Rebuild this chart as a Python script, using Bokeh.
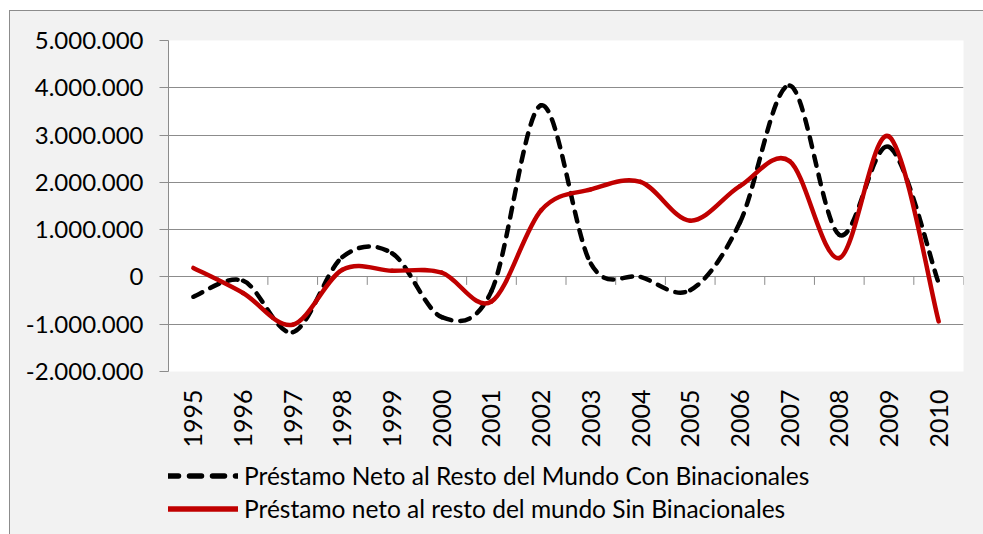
import numpy as np
from bokeh.plotting import figure
from bokeh.layouts import column
from bokeh.models import FixedTicker, Legend, LegendItem, Range1d
from bokeh.embed import file_html
from bokeh.resources import INLINE

years = ["1995", "1996", "1997", "1998", "1999", "2000", "2001", "2002",
         "2003", "2004", "2005", "2006", "2007", "2008", "2009", "2010"]
con_binacionales = [-420000, -80000, -1170000, 420000, 500000, -850000, -300000, 3630000,
                    280000, 0, -280000, 1150000, 4050000, 890000, 2750000, -130000]
sin_binacionales = [190000, -340000, -1010000, 150000, 130000, 90000, -520000, 1410000,
                    1850000, 2010000, 1190000, 1920000, 2450000, 400000, 2970000, -940000]
y_ticks = [-2000000, -1000000, 0, 1000000, 2000000, 3000000, 4000000, 5000000]
y_labels = ["-2.000.000", "-1.000.000", "0", "1.000.000", "2.000.000",
            "3.000.000", "4.000.000", "5.000.000"]
label_con = "Préstamo Neto al Resto del Mundo Con Binacionales"
label_sin = "Préstamo neto al resto del mundo Sin Binacionales"

FONT = "Lato"
GRID = "#8c8c8c"
BG = "#f2f2f2"

xs = list(range(len(years)))


def smooth_segments(x, y):
    """Excel-style smoothed line: cubic Bezier control points (Catmull-Rom)."""
    n = len(x)
    seg = dict(x0=[], y0=[], x1=[], y1=[], cx0=[], cy0=[], cx1=[], cy1=[])
    for i in range(n - 1):
        xp, yp = (x[i - 1], y[i - 1]) if i > 0 else (x[i], y[i])
        xn, yn = (x[i + 2], y[i + 2]) if i + 2 < n else (x[i + 1], y[i + 1])
        seg["x0"].append(x[i]); seg["y0"].append(y[i])
        seg["x1"].append(x[i + 1]); seg["y1"].append(y[i + 1])
        seg["cx0"].append(x[i] + (x[i + 1] - xp) / 6.0)
        seg["cy0"].append(y[i] + (y[i + 1] - yp) / 6.0)
        seg["cx1"].append(x[i + 1] - (xn - x[i]) / 6.0)
        seg["cy1"].append(y[i + 1] - (yn - y[i]) / 6.0)
    return seg


p = figure(width=973, height=439, output_backend="svg", toolbar_location=None,
           x_range=Range1d(-0.5, len(years) - 0.5),
           y_range=Range1d(y_ticks[0], y_ticks[-1]),
           min_border_left=158, min_border_right=20, min_border_top=29,
           min_border_bottom=78)
p.background_fill_color = "white"
p.border_fill_color = BG
p.outline_line_color = None

# grid
p.xgrid.visible = False
p.ygrid.ticker = FixedTicker(ticks=y_ticks)
p.ygrid.grid_line_color = GRID
p.ygrid.grid_line_width = 1

# y axis
p.yaxis.ticker = FixedTicker(ticks=y_ticks)
p.yaxis.major_label_overrides = {t: l for t, l in zip(y_ticks, y_labels)}
p.yaxis.axis_line_color = GRID
p.yaxis.major_tick_line_color = GRID
p.yaxis.major_tick_out = 9
p.yaxis.major_tick_in = 0
p.yaxis.minor_tick_line_color = None
p.yaxis.major_label_text_font = FONT
p.yaxis.major_label_text_font_size = "24px"
p.yaxis.major_label_text_color = "black"
p.yaxis.major_label_standoff = 16

# x axis (labels at bottom)
p.xaxis.ticker = FixedTicker(ticks=xs)
p.xaxis.major_label_overrides = {i: yr for i, yr in zip(xs, years)}
p.xaxis.axis_line_color = None
p.xaxis.major_tick_line_color = None
p.xaxis.major_tick_out = 0
p.xaxis.major_tick_in = 0
p.xaxis.minor_tick_line_color = None
p.xaxis.major_label_orientation = np.pi / 2
p.xaxis.major_label_text_font = FONT
p.xaxis.major_label_text_font_size = "25px"
p.xaxis.major_label_text_color = "black"
p.xaxis.major_label_standoff = 18

# category-axis tick marks on the zero line (at category boundaries)
bounds = [i - 0.5 for i in range(len(years) + 1)]
tick_len = (y_ticks[-1] - y_ticks[0]) * 8.0 / 332.0
p.segment(x0=bounds, y0=[0] * len(bounds), x1=bounds, y1=[-tick_len] * len(bounds),
          line_color=GRID, line_width=1)

# series
s1 = smooth_segments(xs, con_binacionales)
s2 = smooth_segments(xs, sin_binacionales)
DASH = "10 9"
p.bezier(source=s1, x0="x0", y0="y0", x1="x1", y1="y1", cx0="cx0", cy0="cy0",
         cx1="cx1", cy1="cy1", line_color="black", line_width=4.5, line_dash=DASH,
         line_cap="round")
p.bezier(source=s2, x0="x0", y0="y0", x1="x1", y1="y1", cx0="cx0", cy0="cy0",
         cx1="cx1", cy1="cy1", line_color="#c00000", line_width=4.5, line_cap="round")

# legend strip (separate figure directly below, frame aligned with the chart)
q = figure(width=973, height=84, output_backend="svg", toolbar_location=None,
           x_range=Range1d(0, 1), y_range=Range1d(0, 1),
           x_axis_location=None, y_axis_location=None,
           min_border_left=158, min_border_right=20, min_border_top=0,
           min_border_bottom=0)
q.background_fill_color = BG
q.border_fill_color = BG
q.outline_line_color = None
q.grid.visible = False
l1 = q.line(x=[np.nan], y=[np.nan], line_color="black", line_width=5.5,
            line_dash="12 11", line_cap="round")
l2 = q.line(x=[np.nan], y=[np.nan], line_color="#c00000", line_width=5.5)
legend = Legend(items=[LegendItem(label=label_con, renderers=[l1]),
                       LegendItem(label=label_sin, renderers=[l2])],
                location=(-2, 9), orientation="vertical",
                glyph_width=72, glyph_height=33, label_height=33, spacing=0,
                padding=0, margin=0, label_standoff=6,
                label_text_font=FONT, label_text_font_size="24.5px",
                label_text_color="black",
                background_fill_alpha=0, border_line_color=None)
q.add_layout(legend, "center")

layout = column(p, q, spacing=0)
layout.styles = {"margin-left": "9px", "margin-top": "10px", "background-color": BG,
                 "border-left": "1px solid #8c8c8c", "border-top": "1px solid #8c8c8c"}

open("out.html", "w").write(file_html(layout, INLINE))
